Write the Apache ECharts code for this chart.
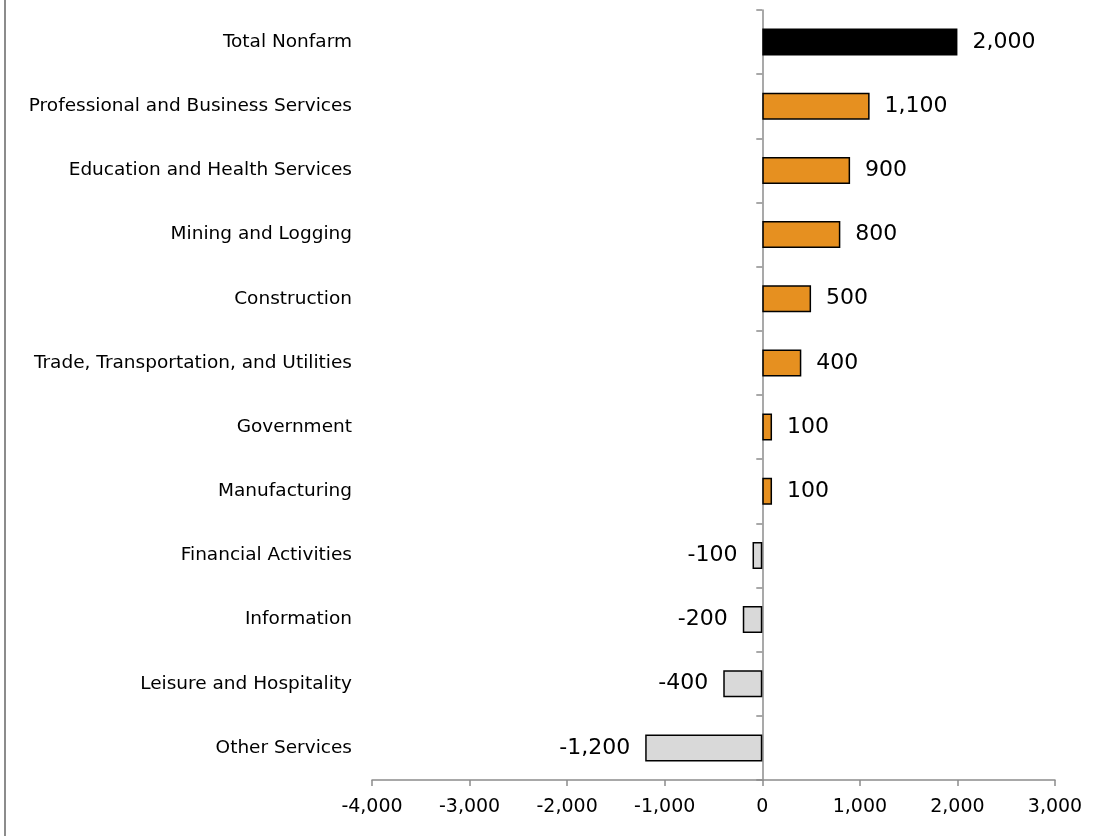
<!DOCTYPE html>
<html>
<head>
<meta charset="utf-8">
<script src="https://cdn.jsdelivr.net/npm/echarts@6/dist/echarts.min.js"></script>
<style>
  html, body { margin: 0; padding: 0; background: #fff; }
  #chart { width: 1110px; height: 836px; }
</style>
</head>
<body>
<div id="chart"></div>
<script>
// categories top to bottom
const categories = [
  'Total Nonfarm',
  'Professional and Business Services',
  'Education and Health Services',
  'Mining and Logging',
  'Construction',
  'Trade, Transportation, and Utilities',
  'Government',
  'Manufacturing',
  'Financial Activities',
  'Information',
  'Leisure and Hospitality',
  'Other Services'
]
const values = [2000, 1100, 900, 800, 500, 400, 100, 100, -100, -200, -400, -1200]
const xTicks = [-4000, -3000, -2000, -1000, 0, 1000, 2000, 3000]

const FONT = 'DejaVu Sans'
const fmt = v => Number(v).toLocaleString('en-US')

const chart = echarts.init(document.getElementById('chart'))

// first row is the total, then gains / losses
const seriesData = values.map((v, i) => {
  let color = v < 0 ? '#d9d9d9' : '#e69020'
  if (i === 0) color = '#000000'
  return {
    value: v,
    itemStyle: { color: color, borderColor: '#000', borderWidth: i === 0 ? 0 : 1.5 },
    label: { position: v < 0 ? 'left' : 'right' }
  }
})

const option = {
  animation: false,
  graphic: [
    {
      type: 'line',
      shape: { x1: 5, y1: 0, x2: 5, y2: 836 },
      style: { stroke: '#8c8c8c', lineWidth: 2 }
    }
  ],
  grid: {
    top: 10,
    left: 372,
    right: 55,
    bottom: 56
  },
  xAxis: {
    type: 'value',
    min: xTicks[0],
    max: xTicks[xTicks.length - 1],
    interval: 1000,
    splitLine: { show: false },
    axisLine: { show: true, onZero: false, lineStyle: { color: '#8c8c8c', width: 1.5 } },
    axisTick: { show: true, length: 6, lineStyle: { color: '#8c8c8c', width: 1.5 } },
    axisLabel: {
      margin: 18,
      color: '#000',
      fontFamily: FONT,
      fontSize: 19,
      formatter: v => fmt(v)
    }
  },
  yAxis: [
    {
      // labels on the far left
      type: 'category',
      inverse: true,
      data: categories,
      axisLine: { show: false, onZero: false },
      axisTick: { show: false },
      axisLabel: { margin: 20, color: '#000', fontFamily: FONT, fontSize: 18.5 }
    },
    {
      // axis line at zero with the tick marks
      type: 'category',
      inverse: true,
      position: 'left',
      data: categories,
      axisLine: { show: true, onZero: true, onZeroAxisIndex: 0, lineStyle: { color: '#8c8c8c', width: 1.5 } },
      axisTick: { show: true, length: 6, lineStyle: { color: '#8c8c8c', width: 1.5 } },
      axisLabel: { show: false }
    }
  ],
  series: [
    {
      type: 'bar',
      yAxisIndex: 0,
      barWidth: 27,
      data: seriesData,
      label: {
        show: true,
        distance: 15,
        color: '#000',
        fontFamily: FONT,
        fontSize: 22,
        formatter: p => fmt(p.value)
      }
    }
  ]
}

chart.setOption(option)
window.addEventListener('resize', function() {
  chart.resize()
})
</script>
</body>
</html>
